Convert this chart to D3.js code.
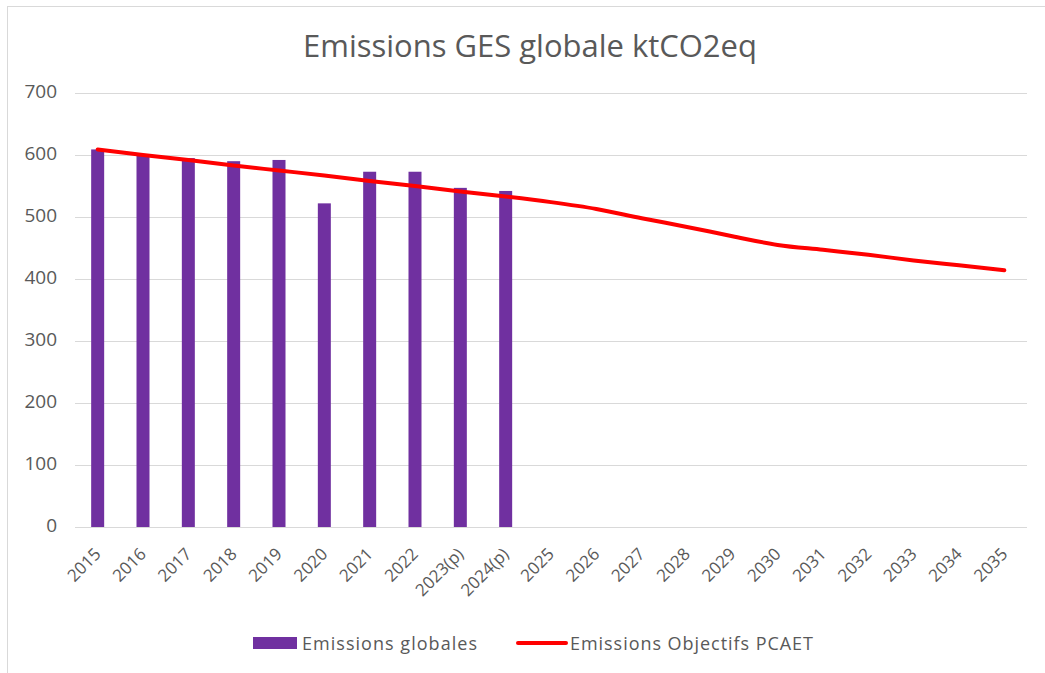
<!DOCTYPE html>
<html><head><meta charset="utf-8">
<script src="https://cdn.jsdelivr.net/npm/d3@7"></script>
<style>
html,body{margin:0;padding:0;background:#fff;}
svg{display:block;}
text{font-family:"Open Sans",Roboto,sans-serif;fill:#595959;}
</style></head>
<body>
<script>
const categories = ["2015","2016","2017","2018","2019","2020","2021","2022","2023(p)","2024(p)","2025","2026","2027","2028","2029","2030","2031","2032","2033","2034","2035"];
const emissionsGlobales = [609,600,595,590,592,522,573,573,547,542,null,null,null,null,null,null,null,null,null,null,null];
const objectifsPCAET = [609,600,592,583,575,567,558,550,541,533,524,513,498,484,469,455,447,439,430,422,414];
const yTicks = [0,100,200,300,400,500,600,700];
const titleText = "Emissions GES globale ktCO2eq";
const legendLabels = ["Emissions globales","Emissions Objectifs PCAET"];

const W = 1045, H = 673;
const svg = d3.select("body").append("svg").attr("width", W).attr("height", H);

// chart border (top & left visible)
svg.append("rect").attr("x",7.5).attr("y",6.5).attr("width",1100).attr("height",700)
  .attr("fill","none").attr("stroke","#d9d9d9").attr("stroke-width",1);

const pLeft = 75, pRight = 1027, pTop = 93, pBottom = 527;
const x = d3.scaleBand().domain(categories).range([pLeft, pRight]).padding(0);
const y = d3.scaleLinear().domain([0,700]).range([pBottom, pTop]);

// title
const title = svg.append("text").attr("x", 530).attr("y", 57).attr("text-anchor","middle")
  .style("font-size","25px").text(titleText);
{
  const target = 454; const w = title.node().getComputedTextLength();
  title.style("font-size", (25*target/w).toFixed(2)+"px");
}

// gridlines
svg.append("g").selectAll("line").data(yTicks).join("line")
  .attr("x1", pLeft).attr("x2", pRight)
  .attr("y1", d => Math.round(y(d))+0.5).attr("y2", d => Math.round(y(d))+0.5)
  .attr("stroke","#d9d9d9").attr("stroke-width",1);

// y axis labels
const yAxis = d3.axisLeft(y).tickValues(yTicks).tickSize(0).tickPadding(0);
const gy = svg.append("g").attr("transform", `translate(57,-2)`).call(yAxis);
gy.select(".domain").remove();
gy.selectAll("text").style("font-size","19px").attr("fill","#595959")
  .style("font-family",'"Open Sans",Roboto,sans-serif');

// bars
const barW = 13;
svg.append("g").selectAll("rect").data(categories.map((c,i)=>({c,v:emissionsGlobales[i]})).filter(d=>d.v!=null))
  .join("rect")
  .attr("x", d => x(d.c) + x.bandwidth()/2 - barW/2)
  .attr("width", barW)
  .attr("y", d => y(d.v))
  .attr("height", d => y(0) - y(d.v))
  .attr("fill","#7030A0");

// line
const line = d3.line().x((d,i)=> x(categories[i]) + x.bandwidth()/2).y(d=>y(d)).curve(d3.curveMonotoneX);
svg.append("path").datum(objectifsPCAET).attr("d", line)
  .attr("fill","none").attr("stroke","#FF0000").attr("stroke-width",4)
  .attr("stroke-linecap","round").attr("stroke-linejoin","round");

// x axis labels
const xAxis = d3.axisBottom(x).tickSize(0).tickPadding(0);
const gx = svg.append("g").attr("transform", `translate(0,${pBottom})`).call(xAxis);
gx.select(".domain").remove();
gx.selectAll("text")
  .style("font-size","17px").attr("fill","#595959")
  .style("font-family",'"Open Sans",Roboto,sans-serif')
  .attr("text-anchor","end")
  .attr("dy",null).attr("y",null)
  .attr("transform","translate(1,25) rotate(-45)")
  .attr("dominant-baseline","middle");

// legend
const lg = svg.append("g");
lg.append("rect").attr("x",253).attr("y",637).attr("width",44).attr("height",12).attr("fill","#7030A0");
lg.append("text").attr("x",302).attr("y",643).attr("dominant-baseline","central").style("font-size","18px")
  .attr("textLength",175).attr("lengthAdjust","spacing").text(legendLabels[0]);
lg.append("line").attr("x1",518).attr("x2",566).attr("y1",643).attr("y2",643).attr("stroke","#FF0000").attr("stroke-width",4).attr("stroke-linecap","round");
lg.append("text").attr("x",570).attr("y",643).attr("dominant-baseline","central").style("font-size","18px")
  .attr("textLength",243).attr("lengthAdjust","spacing").text(legendLabels[1]);
</script>
</body></html>
